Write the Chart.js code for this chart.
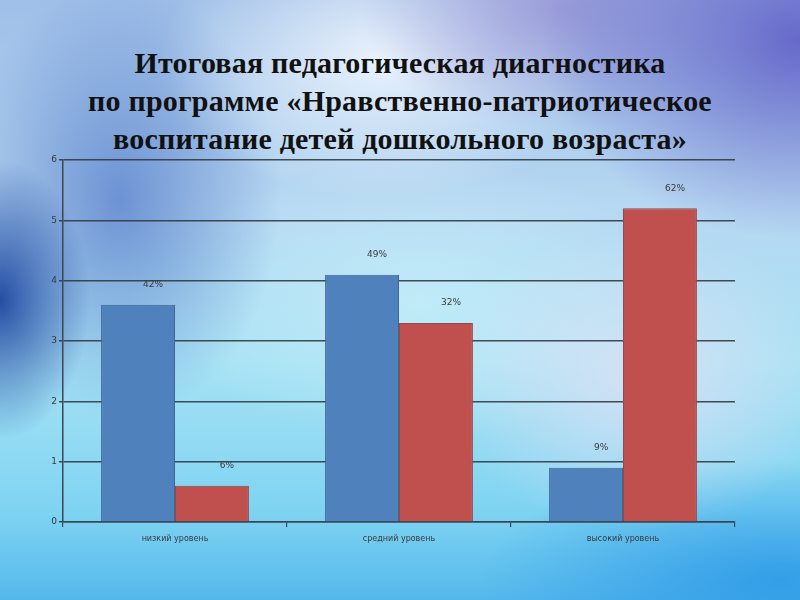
<!DOCTYPE html>
<html><head><meta charset="utf-8">
<script src="https://cdn.jsdelivr.net/npm/chart.js@4"></script>
<style>
html,body{margin:0;padding:0;width:800px;height:600px;overflow:hidden;}
body{position:relative;
background:
 radial-gradient(ellipse 90px 140px at 0px 300px, rgba(30,70,160,0.95), rgba(30,70,160,0) 100%),
 radial-gradient(ellipse 260px 200px at 800px 40px, rgba(100,100,200,0.95), rgba(100,100,200,0) 100%),
 radial-gradient(ellipse 200px 120px at 560px 10px, rgba(150,140,210,0.7), rgba(150,140,210,0) 100%),
 radial-gradient(ellipse 220px 140px at 380px 60px, rgba(245,250,255,0.85), rgba(245,250,255,0) 100%),
 radial-gradient(ellipse 160px 220px at 120px 200px, rgba(60,100,190,0.6), rgba(60,100,190,0) 100%),
 radial-gradient(ellipse 200px 150px at 640px 380px, rgba(225,225,245,0.8), rgba(225,225,245,0) 100%),
 radial-gradient(ellipse 260px 140px at 420px 300px, rgba(200,240,250,0.7), rgba(200,240,250,0) 100%),
 radial-gradient(ellipse 300px 120px at 780px 580px, rgba(40,150,230,0.8), rgba(40,150,230,0) 100%),
 linear-gradient(180deg, #9fbfe8 0%, #b7d8f2 35%, #a8e2f4 60%, #7fd4f2 85%, #55b8ec 100%);
}
#title{position:absolute;left:0;top:44px;width:800px;text-align:center;
 font-family:"Liberation Serif","Times New Roman",serif;font-weight:bold;font-size:30px;line-height:38px;color:#111;
 letter-spacing:0.2px;}
#c{position:absolute;left:0;top:0;}
</style></head>
<body>
<div id="title">Итоговая педагогическая диагностика<br>по программе «Нравственно-патриотическое<br>воспитание детей дошкольного возраста»</div>
<canvas id="c" width="800" height="600"></canvas>
<script>
const categories = ["низкий уровень", "средний уровень", "высокий уровень"];
const series1 = [3.6, 4.1, 0.9];
const series2 = [0.6, 3.3, 5.2];
const labels1 = ["42%", "49%", "9%"];
const labels2 = ["6%", "32%", "62%"];
const yTicks = [0, 1, 2, 3, 4, 5, 6];

const labelPlugin = {
  id: 'barLabels',
  afterDatasetsDraw(chart) {
    const ctx = chart.ctx;
    const lbls = [labels1, labels2];
    ctx.save();
    ctx.font = '9px "DejaVu Sans", sans-serif';
    ctx.fillStyle = '#3a3a3a';
    ctx.textAlign = 'center';
    ctx.textBaseline = 'middle';
    chart.data.datasets.forEach((ds, i) => {
      chart.getDatasetMeta(i).data.forEach((bar, j) => {
        ctx.fillText(lbls[i][j], bar.x + 15, bar.y - 20);
      });
    });
    ctx.restore();
  }
};

new Chart(document.getElementById('c'), {
  type: 'bar',
  data: {
    labels: categories,
    datasets: [
      { data: series1, backgroundColor: '#4f81bd', borderColor: '#40658f', borderWidth: 1 },
      { data: series2, backgroundColor: '#c0504d', borderColor: '#8f4a4a', borderWidth: 1 }
    ]
  },
  options: {
    responsive: false,
    animation: false,
    layout: { padding: { left: 23, right: 65, top: 160, bottom: 0 } },
    plugins: { legend: { display: false }, tooltip: { enabled: false }, title: { display: false } },
    datasets: { bar: { categoryPercentage: 0.66, barPercentage: 1.0 } },
    scales: {
      x: {
        grid: { drawOnChartArea: false, drawTicks: true, tickLength: 5, color: '#3c4650', lineWidth: 1.2, offset: true },
        border: { color: '#3c4650', width: 1.5 },
        ticks: { font: { family: '"DejaVu Sans", sans-serif', size: 8 }, color: '#3a3a3a', padding: 7 },
        afterFit(s) { s.height = 78; }
      },
      y: {
        min: 0, max: 6,
        afterBuildTicks(s) { s.ticks = yTicks.map(v => ({ value: v })); },
        grid: { color: 'rgba(50,58,68,0.9)', lineWidth: 1.5, tickLength: 4 },
        border: { color: '#3c4650', width: 1.5 },
        ticks: { font: { family: '"DejaVu Sans", sans-serif', size: 9 }, color: '#3a3a3a', padding: 2 },
        afterFit(s) { s.width = 40; }
      }
    }
  },
  plugins: [labelPlugin]
});
</script>
</body></html>
